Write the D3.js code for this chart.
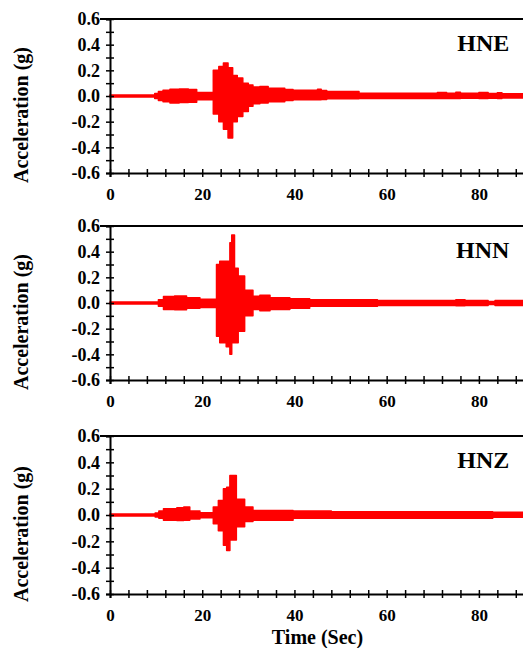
<!DOCTYPE html>
<html>
<head>
<meta charset="utf-8">
<script src="https://cdn.jsdelivr.net/npm/d3@7"></script>
<style>
    body { margin: 0; background: #fff; }
    .axis path, .axis line { stroke: #000; }
</style>
</head>
<body>
<div id="chart-area"></div>
<script>
// envelope of each record (upper / lower peak in g), step-wise in time (sec)
var hneTime  = [0, 9.7, 10.5, 11.5, 13, 15, 17, 18.8, 22.4, 23.6, 24.6, 25.6, 26.6, 27.6, 28.8, 30, 31, 32.5, 34.3, 37.9, 39.7, 45, 45.8, 47, 54, 71, 73, 75, 76, 80, 82, 84, 85, 90];
var hneUpper = [0.008, 0.02, 0.035, 0.045, 0.052, 0.055, 0.05, 0.028, 0.2, 0.23, 0.257, 0.22, 0.16, 0.14, 0.1, 0.085, 0.07, 0.075, 0.06, 0.05, 0.045, 0.052, 0.042, 0.035, 0.022, 0.028, 0.022, 0.03, 0.022, 0.028, 0.02, 0.025, 0.018, 0.018];
var hneLower = [-0.008, -0.02, -0.035, -0.045, -0.055, -0.05, -0.048, -0.03, -0.14, -0.2, -0.26, -0.327, -0.2, -0.16, -0.12, -0.08, -0.06, -0.055, -0.045, -0.035, -0.03, -0.03, -0.028, -0.022, -0.02, -0.02, -0.02, -0.02, -0.018, -0.02, -0.018, -0.02, -0.015, -0.015];

var hnnTime  = [0, 10.5, 11.6, 14, 16.6, 19.5, 23.1, 23.8, 25.2, 26.0, 26.4, 27.0, 27.8, 29.2, 31, 32.5, 34.7, 39, 43.3, 58, 75, 77, 82, 83.5, 90];
var hnnUpper = [0.008, 0.025, 0.05, 0.055, 0.04, 0.03, 0.3, 0.325, 0.325, 0.47, 0.53, 0.27, 0.21, 0.1, 0.052, 0.06, 0.04, 0.034, 0.025, 0.02, 0.025, 0.02, 0.012, 0.02, 0.02];
var hnnLower = [-0.008, -0.025, -0.05, -0.052, -0.04, -0.035, -0.26, -0.31, -0.34, -0.4, -0.31, -0.31, -0.22, -0.1, -0.05, -0.06, -0.05, -0.04, -0.025, -0.02, -0.022, -0.02, -0.012, -0.02, -0.02];

var hnzTime  = [0, 9.8, 10.6, 11.6, 14.5, 16, 17.3, 19.5, 22.4, 23.5, 24.6, 25.3, 26.0, 27.4, 29.2, 31, 39.7, 48, 83, 90];
var hnzUpper = [0.008, 0.015, 0.03, 0.048, 0.056, 0.06, 0.03, 0.018, 0.06, 0.11, 0.2, 0.21, 0.3, 0.12, 0.06, 0.035, 0.03, 0.025, 0.02, 0.02];
var hnzLower = [-0.008, -0.015, -0.025, -0.04, -0.042, -0.04, -0.03, -0.02, -0.066, -0.12, -0.23, -0.27, -0.19, -0.09, -0.05, -0.04, -0.025, -0.025, -0.018, -0.018];

var panelNames = ["HNE", "HNN", "HNZ"];
var xTickValues = [0, 20, 40, 60, 80];
var yTickValues = [-0.6, -0.4, -0.2, 0.0, 0.2, 0.4, 0.6];

var series = [
    { name: panelNames[0], time: hneTime, upper: hneUpper, lower: hneLower },
    { name: panelNames[1], time: hnnTime, upper: hnnUpper, lower: hnnLower },
    { name: panelNames[2], time: hnzTime, upper: hnzUpper, lower: hnzLower }
];

var font = "Liberation Serif";
var width = 523;
var height = 648;
var left = 110;
var plotW = 415;
var tops = [19, 226, 436];
var heights = [154, 154, 158];

var svg = d3.select("#chart-area")
    .append("svg")
    .attr("width", width)
    .attr("height", height);

var x = d3.scaleLinear()
    .domain([0, 90])
    .range([0, plotW]);

var xMinor = d3.range(0, 90, 4);
var yMinor = d3.range(-6, 7).map(function(i) { return i / 10; });

series.forEach(function(s, i) {
    var h = heights[i];
    var g = svg.append("g")
        .attr("transform", "translate(" + left + "," + tops[i] + ")");

    var y = d3.scaleLinear()
        .domain([-0.6, 0.6])
        .range([h, 0]);

    var pts = s.time.map(function(t, k) {
        return { t: t, hi: s.upper[k], lo: s.lower[k] };
    });

    var area = d3.area()
        .curve(d3.curveStepAfter)
        .x(function(d) { return x(d.t); })
        .y0(function(d) { return y(d.lo); })
        .y1(function(d) { return y(d.hi); });

    g.append("path")
        .datum(pts)
        .attr("d", area)
        .attr("fill", "#ff0000")
        .attr("stroke", "#ff0000")
        .attr("stroke-width", 1.5)
        .attr("stroke-linejoin", "round");

    // x axis
    var xAxis = g.append("g")
        .attr("class", "axis")
        .attr("transform", "translate(0," + h + ")")
        .call(d3.axisBottom(x)
            .tickValues(xMinor)
            .tickSizeOuter(0)
            .tickSize(4)
            .tickFormat(function(d) { return xTickValues.indexOf(d) >= 0 ? d : ""; }));
    xAxis.attr("font-family", font).attr("font-size", 17).attr("font-weight", "bold");
    xAxis.select(".domain").attr("stroke-width", 2);
    xAxis.selectAll(".tick line").attr("y1", -4).attr("stroke-width", 1.5);
    xAxis.selectAll(".tick text")
        .attr("y", 27)
        .attr("dy", null);

    // y axis
    var yAxis = g.append("g")
        .attr("class", "axis")
        .call(d3.axisLeft(y)
            .tickValues(yMinor)
            .tickSizeOuter(0)
            .tickSize(4)
            .tickFormat(function(d) {
                var hit = yTickValues.filter(function(v) { return Math.abs(v - d) < 1e-9; });
                return hit.length ? hit[0].toFixed(1) : "";
            }));
    yAxis.attr("font-family", font).attr("font-size", 18).attr("font-weight", "bold");
    yAxis.select(".domain").attr("stroke-width", 2);
    yAxis.selectAll(".tick line").attr("x1", 4).attr("stroke-width", 1.5);
    yAxis.selectAll(".tick text").attr("x", -10);

    // top frame
    g.append("line")
        .attr("x1", -10)
        .attr("x2", plotW)
        .attr("y1", 0)
        .attr("y2", 0)
        .attr("stroke", "#000")
        .attr("stroke-width", 2);

    g.append("text")
        .attr("x", x(86.6))
        .attr("y", 32)
        .attr("text-anchor", "end")
        .attr("font-family", font)
        .attr("font-weight", "bold")
        .attr("font-size", 24)
        .text(s.name);

    g.append("text")
        .attr("transform", "translate(" + (28 - left) + "," + (h / 2 + 19) + ") rotate(-90)")
        .attr("text-anchor", "middle")
        .attr("font-family", font)
        .attr("font-weight", "bold")
        .attr("font-size", 20)
        .text("Acceleration (g)");
});

svg.append("text")
    .attr("x", left + x(45))
    .attr("y", 644)
    .attr("text-anchor", "middle")
    .attr("font-family", font)
    .attr("font-weight", "bold")
    .attr("font-size", 20)
    .text("Time (Sec)");
</script>
</body>
</html>
